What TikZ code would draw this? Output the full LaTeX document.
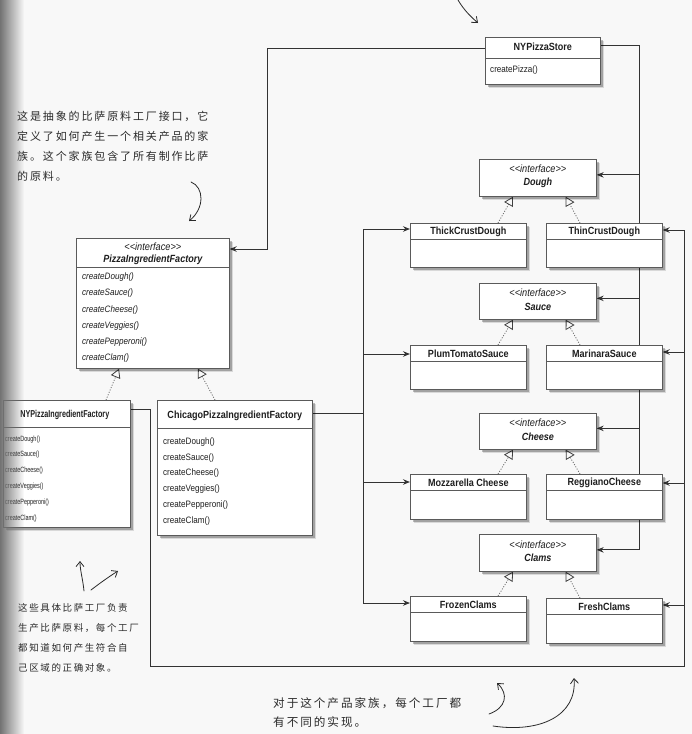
\documentclass[tikz,border=0pt]{standalone}
\usepackage{fontspec}
\newfontfamily\umlfont[FakeStretch=0.87]{Liberation Sans}
\newfontfamily\nyfont[FakeStretch=0.72]{Liberation Sans}
\newfontfamily\cjkfont[LetterSpace=17]{Noto Sans CJK SC}
\usetikzlibrary{arrows.meta,shadows,fadings}
\definecolor{linec}{HTML}{333333}
\definecolor{boxc}{HTML}{5A5A5A}
\definecolor{txtc}{HTML}{1E1E1E}
\definecolor{bgc}{HTML}{F8F8F8}
\definecolor{handc}{HTML}{2A2A2A}
\tikzfading[name=fadeR, left color=transparent!0, right color=transparent!100]
\pgfdeclarelayer{back}
\pgfdeclarelayer{bg}
\pgfsetlayers{back,bg,main}
\newcommand\umlsep[2]{\draw[boxc,line width=0.6pt] ([yshift=-#2pt]#1.north west) -- ([yshift=-#2pt]#1.north east);}
\begin{document}
\begin{tikzpicture}[x=1pt,y=-1pt,
  cls/.style={draw=boxc, fill=white, line width=0.7pt, inner sep=0pt, anchor=north west,
    drop shadow={shadow xshift=4pt, shadow yshift=-4pt, opacity=0.12, fill=black},
    drop shadow={shadow xshift=2.5pt, shadow yshift=-2.5pt, opacity=0.25, fill=black}},
  ttl/.style={font=\umlfont\bfseries\fontsize{10.4}{12}\selectfont, text=txtc, inner sep=0pt},
  ifc/.style={font=\umlfont\itshape\fontsize{10.6}{12}\selectfont, text=txtc, inner sep=0pt},
  ifn/.style={font=\umlfont\bfseries\itshape\fontsize{10.4}{12}\selectfont, text=txtc, inner sep=0pt},
  meth/.style={font=\umlfont\fontsize{9.3}{11}\selectfont, text=txtc, inner sep=0pt, anchor=west},
  imeth/.style={meth, font=\umlfont\itshape\fontsize{9.3}{11}\selectfont},
  nyttl/.style={font=\nyfont\bfseries\fontsize{10}{12}\selectfont, text=txtc, inner sep=0pt},
  nymeth/.style={font=\nyfont\fontsize{7.6}{9}\selectfont, text=txtc, inner sep=0pt, anchor=west},
  conn/.style={draw=linec, line width=1pt},
  arr/.style={conn, -{Stealth[length=7pt,width=5.5pt]}},
  gen/.style={draw=black!60, line width=0.8pt, dash pattern=on 1pt off 1.6pt,
    -{Triangle[open, length=9pt, width=10pt, line width=0.8pt, color=black!75]}},
  hand/.style={font=\cjkfont\fontsize{11}{13}\selectfont, text=handc, inner sep=0pt, anchor=west},
  handarr/.style={draw=handc, line width=0.8pt, line cap=round, -{Straight Barb[length=5pt,width=8pt]}}
]
\begin{pgfonlayer}{back}
\fill[bgc] (0,0) rectangle (692,734);
\end{pgfonlayer}
\useasboundingbox (0,0) rectangle (692,734);

% ---------- class boxes ----------
\node[cls, minimum width=115pt, minimum height=47pt] (store) at (485,37) {};
\umlsep{store}{21}
\node[ttl] (storeT) at ([yshift=-10pt]store.north) {NYPizzaStore};
\node[meth] (storeM) at ([xshift=5pt,yshift=-33pt]store.north west) {createPizza()};

\node[cls, minimum width=117pt, minimum height=37pt] (dough) at (479,159) {};
\node[ifc] (doughS) at ([yshift=-10pt]dough.north) {<{}<interface>{}>};
\node[ifn] (doughN) at ([yshift=-24pt]dough.north) {Dough};

\node[cls, minimum width=116pt, minimum height=44pt] (thick) at (410,223) {};
\umlsep{thick}{16}
\node[ttl] (thickT) at ([yshift=-8.5pt]thick.north) {ThickCrustDough};
\node[cls, minimum width=116pt, minimum height=44pt] (thin) at (546,223) {};
\umlsep{thin}{16}
\node[ttl] (thinT) at ([yshift=-8.5pt]thin.north) {ThinCrustDough};

\node[cls, minimum width=117pt, minimum height=36pt] (sauce) at (479,283) {};
\node[ifc] (sauceS) at ([yshift=-10pt]sauce.north) {<{}<interface>{}>};
\node[ifn] (sauceN) at ([yshift=-24pt]sauce.north) {Sauce};

\node[cls, minimum width=116pt, minimum height=44pt] (plum) at (410,345) {};
\umlsep{plum}{16}
\node[ttl] (plumT) at ([yshift=-8.5pt]plum.north) {PlumTomatoSauce};
\node[cls, minimum width=116pt, minimum height=44pt] (marinara) at (546,345) {};
\umlsep{marinara}{16}
\node[ttl] (marinaraT) at ([yshift=-8.5pt]marinara.north) {MarinaraSauce};

\node[cls, minimum width=117pt, minimum height=36pt] (cheese) at (479,413) {};
\node[ifc] (cheeseS) at ([yshift=-10pt]cheese.north) {<{}<interface>{}>};
\node[ifn] (cheeseN) at ([yshift=-23.5pt]cheese.north) {Cheese};

\node[cls, minimum width=116pt, minimum height=45pt] (mozz) at (410,474) {};
\umlsep{mozz}{16}
\node[ttl] (mozzT) at ([yshift=-9pt]mozz.north) {Mozzarella Cheese};
\node[cls, minimum width=116pt, minimum height=45pt] (reggiano) at (546,474) {};
\umlsep{reggiano}{16}
\node[ttl] (reggianoT) at ([yshift=-9pt]reggiano.north) {ReggianoCheese};

\node[cls, minimum width=117pt, minimum height=37pt] (clams) at (479,534) {};
\node[ifc] (clamsS) at ([yshift=-10.5pt]clams.north) {<{}<interface>{}>};
\node[ifn] (clamsN) at ([yshift=-23.5pt]clams.north) {Clams};

\node[cls, minimum width=116pt, minimum height=45pt] (frozen) at (410,596) {};
\umlsep{frozen}{16}
\node[ttl] (frozenT) at ([yshift=-9pt]frozen.north) {FrozenClams};
\node[cls, minimum width=116pt, minimum height=45pt] (fresh) at (546,598) {};
\umlsep{fresh}{16}
\node[ttl] (freshT) at ([yshift=-9pt]fresh.north) {FreshClams};

% abstract factory
\node[cls, minimum width=153pt, minimum height=130pt] (pif) at (76,238) {};
\umlsep{pif}{29}
\node[ifc] (pifS) at ([yshift=-8.5pt]pif.north) {<{}<interface>{}>};
\node[ifn] (pifN) at ([yshift=-21.5pt]pif.north) {PizzaIngredientFactory};
\foreach \m/\o [count=\k] in {createDough()/39, createSauce()/55.5, createCheese()/72,
  createVeggies()/88, createPepperoni()/104, createClam()/120}
  \node[imeth] (pifM\k) at ([xshift=6pt,yshift=-\o pt]pif.north west) {\m};

% NY factory
\node[cls, minimum width=127pt, minimum height=127pt] (ny) at (3,400) {};
\umlsep{ny}{27}
\node[nyttl] (nyT) at ([xshift=-2pt,yshift=-15pt]ny.north) {NYPizzaIngredientFactory};
\foreach \m/\o [count=\k] in {createDough()/40, createSauce()/55, createCheese()/71,
  createVeggies()/87, createPepperoni()/103, createClam()/119}
  \node[nymeth] (nyM\k) at ([xshift=2pt,yshift=-\o pt]ny.north west) {\m};

% Chicago factory
\node[cls, minimum width=155pt, minimum height=135pt] (chicago) at (157,400) {};
\umlsep{chicago}{28}
\node[ttl] (chicagoT) at ([yshift=-16pt]chicago.north) {ChicagoPizzaIngredientFactory};
\foreach \m/\o [count=\k] in {createDough()/42, createSauce()/58, createCheese()/73.5,
  createVeggies()/89.5, createPepperoni()/105.5, createClam()/121}
  \node[meth] (chM\k) at ([xshift=6pt,yshift=-\o pt]chicago.north west) {\m};

% ---------- connectors ----------
\coordinate (loopL) at (150,666);
\coordinate (loopR) at (684,666);
\coordinate (cTop) at ([xshift=-47pt,yshift=-6pt]thick.north west);
\coordinate (cBot) at ([xshift=-47pt,yshift=-7pt]frozen.north west);
\coordinate (cOut) at ([yshift=-13pt]chicago.north east);
\begin{pgfonlayer}{bg}
% store -> abstract factory
\draw[arr] ([yshift=-11pt]store.north west) -| ([xshift=38pt,yshift=-11pt]pif.north east) -- ([yshift=-11pt]pif.north east);
% store -> interfaces
\draw[arr] ([yshift=-8pt]store.north east) -| ([xshift=43pt,yshift=3pt]clams.east) -- ([yshift=3pt]clams.east);
\foreach \n in {dough,sauce,cheese}
  \draw[arr] ([xshift=43pt,yshift=3pt]\n.east) -- ([yshift=3pt]\n.east);
% NY factory -> NY products
\draw[arr] ([yshift=-9pt]ny.north east) -| (loopL) -- (loopR) |- ([yshift=-7pt]thin.north east);
\foreach \n/\d in {marinara/-7pt, reggiano/-9pt, fresh/-7pt}
  \draw[arr] ([xshift=22pt,yshift=\d]\n.north east) -- ([yshift=\d]\n.north east);
% Chicago factory -> Chicago products
\draw[conn] (cOut) -- (cOut -| cTop);
\draw[conn] (cTop) -- (cBot);
\foreach \n/\d in {thick/-6pt, plum/-9pt, mozz/-8pt, frozen/-7pt}
  \draw[arr] ([xshift=-47pt,yshift=\d]\n.north west) -- ([yshift=\d]\n.north west);
% realisations
\foreach \i/\l/\r in {dough/thick/thin, sauce/plum/marinara, cheese/mozz/reggiano, clams/frozen/fresh}{
  \draw[gen] ([xshift=88pt]\l.north west) -- ([xshift=34pt]\i.south west);
  \draw[gen] ([xshift=34pt]\r.north west) -- ([xshift=-31pt]\i.south east);
}
\draw[gen] ([xshift=103pt]ny.north west) -- ([xshift=43pt]pif.south west);
\draw[gen] ([xshift=58pt]chicago.north west) -- ([xshift=122pt]pif.south west);
\end{pgfonlayer}

% ---------- handwritten notes ----------
\node[hand] (n1) at (17,116) {这是抽象的比萨原料工厂接口，它};
\node[hand] (n2) at (17,136) {定义了如何产生一个相关产品的家};
\node[hand] (n3) at (17,156) {族。这个家族包含了所有制作比萨};
\node[hand] (n4) at (17,176) {的原料。};
\coordinate (h1a) at (191,182);
\coordinate (h1b) at (189,221);
\draw[handarr] (h1a) .. controls (204,187) and (205,208) .. (h1b);

\coordinate (h0a) at (458,0);
\coordinate (h0b) at (478,23);
\draw[handarr] (h0a) .. controls (464,10) and (470,16) .. (h0b);

\node[hand, font=\cjkfont\fontsize{9.5}{12}\selectfont] (m1) at (18,608) {这些具体比萨工厂负责};
\node[hand, font=\cjkfont\fontsize{9.5}{12}\selectfont] (m2) at (18,628) {生产比萨原料，每个工厂};
\node[hand, font=\cjkfont\fontsize{9.5}{12}\selectfont] (m3) at (18,648) {都知道如何产生符合自};
\node[hand, font=\cjkfont\fontsize{9.5}{12}\selectfont] (m4) at (18,668) {己区域的正确对象。};
\coordinate (h2a) at (84,591);
\coordinate (h2b) at (80,561);
\draw[handarr] (h2a) .. controls (83,580) and (80,570) .. (h2b);
\coordinate (h3a) at (91,590);
\coordinate (h3b) at (118,571);
\draw[handarr] (h3a) .. controls (100,583) and (110,576) .. (h3b);

\node[hand, font=\cjkfont\fontsize{11.6}{14}\selectfont] (b1) at (273,703) {对于这个产品家族，每个工厂都};
\node[hand, font=\cjkfont\fontsize{11.6}{14}\selectfont] (b2) at (273,722) {有不同的实现。};
\coordinate (h4a) at (489,714);
\coordinate (h4b) at (497,683);
\draw[handarr] (h4a) .. controls (506,708) and (509,694) .. (h4b);
\coordinate (h5a) at (493,726);
\coordinate (h5b) at (574,678);
\draw[handarr] (h5a) .. controls (540,733) and (577,716) .. (h5b);

% page curl shading at the left edge
\fill[black!55, path fading=fadeR] (0,0) rectangle (24,734);
\end{tikzpicture}
\end{document}
